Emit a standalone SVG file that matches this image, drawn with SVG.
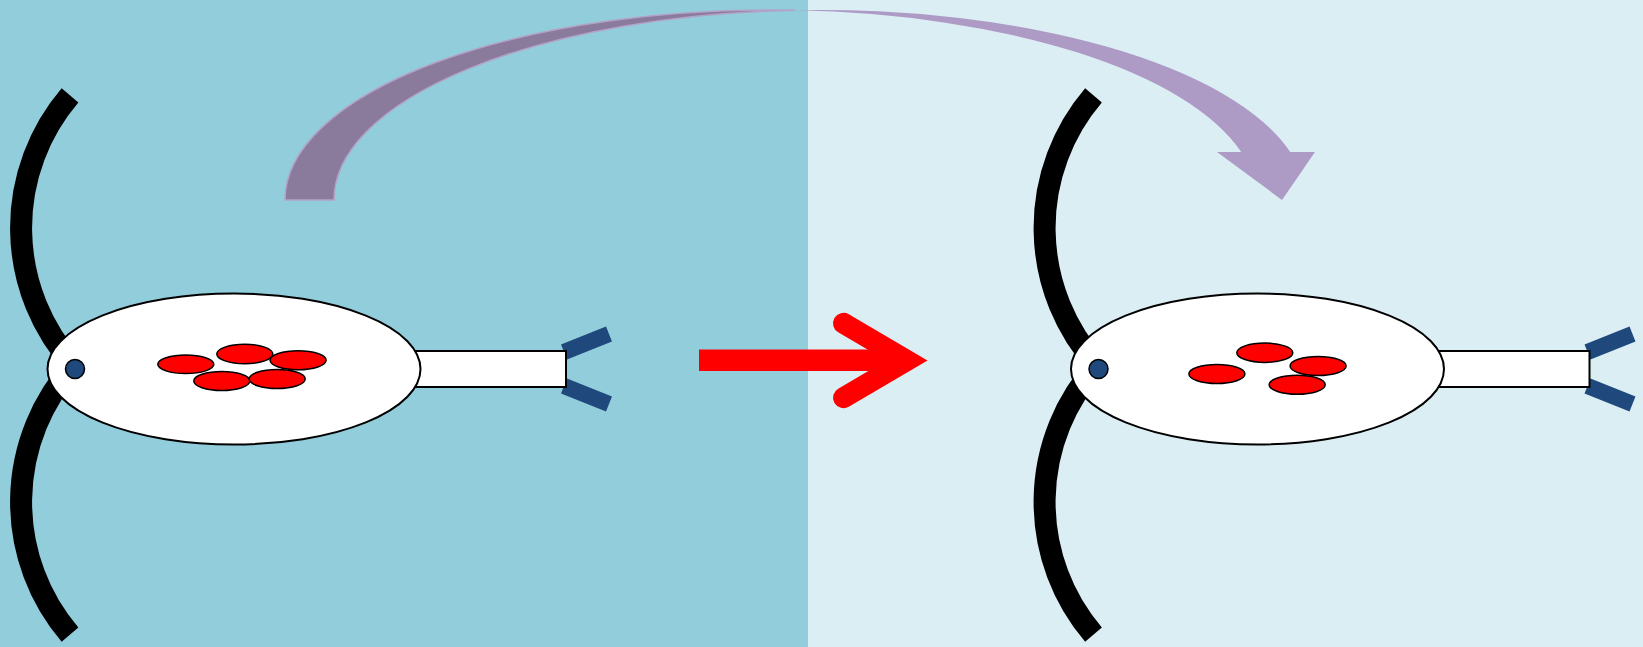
<svg xmlns="http://www.w3.org/2000/svg" xmlns:xlink="http://www.w3.org/1999/xlink" width="1643" height="647" viewBox="0 0 1643 647">
  <style>
    .limb { fill: none; stroke: #000; stroke-width: 22; stroke-linecap: butt; }
    .arm { stroke: #1F497D; stroke-width: 16; stroke-linecap: butt; }
    .stalk { fill: #fff; stroke: #000; stroke-width: 2; }
    .body { fill: #fff; stroke: #000; stroke-width: 2; }
    .nucleus { fill: #1F497D; stroke: #000; stroke-width: 1.5; }
    .granule { fill: #FF0000; stroke: #000; stroke-width: 1.5; }
  </style>
  <defs>
    <!-- shared cell body: limbs, tail arms, stalk, body outline and nucleus -->
    <g id="cellBody">
      <path class="limb" d="M 70 95.4 A 204 204 0 0 0 74 365"/>
      <path class="limb" d="M 74 365 A 204 204 0 0 0 70 634.6"/>
      <line class="arm" x1="564" y1="352" x2="609" y2="334"/>
      <line class="arm" x1="564" y1="386" x2="609" y2="404"/>
      <rect class="stalk" x="415" y="351" width="151" height="36"/>
      <ellipse class="body" cx="234" cy="369" rx="186.5" ry="75.5"/>
      <circle class="nucleus" cx="75" cy="369" r="9.5"/>
    </g>
  </defs>

  <!-- backdrop panels -->
  <g id="backdrop">
    <rect x="0" y="0" width="808" height="647" fill="#92CDDC"/>
    <rect x="808" y="0" width="835" height="647" fill="#DBEEF4"/>
  </g>

  <!-- cell, first state -->
  <g id="cell-before">
    <use xlink:href="#cellBody"/>
    <ellipse class="granule" cx="185.8" cy="364.3" rx="28" ry="9.3"/>
    <ellipse class="granule" cx="244.8" cy="354" rx="28" ry="9.7"/>
    <ellipse class="granule" cx="298.1" cy="360.3" rx="28" ry="9.5"/>
    <ellipse class="granule" cx="221.8" cy="381" rx="28" ry="9.5"/>
    <ellipse class="granule" cx="277.2" cy="379" rx="28" ry="9.5"/>
  </g>

  <!-- cell, second state -->
  <g id="cell-after">
    <use xlink:href="#cellBody" transform="translate(1023.5 0)"/>
    <ellipse class="granule" cx="1216.9" cy="374" rx="28" ry="9.5"/>
    <ellipse class="granule" cx="1264.8" cy="352.7" rx="28" ry="9.7"/>
    <ellipse class="granule" cx="1318.1" cy="366" rx="28" ry="9.5"/>
    <ellipse class="granule" cx="1297.2" cy="384.7" rx="28" ry="9.5"/>
  </g>

  <!-- connectors -->
  <g id="connectors">
    <!-- straight transition arrow -->
    <g id="transition-arrow">
      <line x1="699" y1="360.3" x2="907" y2="360.3" stroke="#FF0000" stroke-width="21.5" stroke-linecap="butt"/>
      <polyline points="843.5,323.3 906.8,360.5 843.5,397.7" fill="none" stroke="#FF0000" stroke-width="21" stroke-linecap="round" stroke-linejoin="miter"/>
    </g>
    <!-- curved down arrow over the top -->
    <g id="curved-arrow">
      <path d="M 285 200 A 486 190 0 0 1 795.5 10.24 A 486 190 0 0 0 334 200 Z" fill="#8A7A9B" stroke="#B3A2C7" stroke-width="1.5" stroke-linejoin="miter"/>
      <path d="M 795.5 10.24 A 486 190 0 0 1 1290.2 152 L 1315 152 L 1282 200 L 1217 152 L 1241.2 152 A 486 190 0 0 0 795.5 10.24 Z" fill="#AE9BC5"/>
    </g>
  </g>
</svg>
